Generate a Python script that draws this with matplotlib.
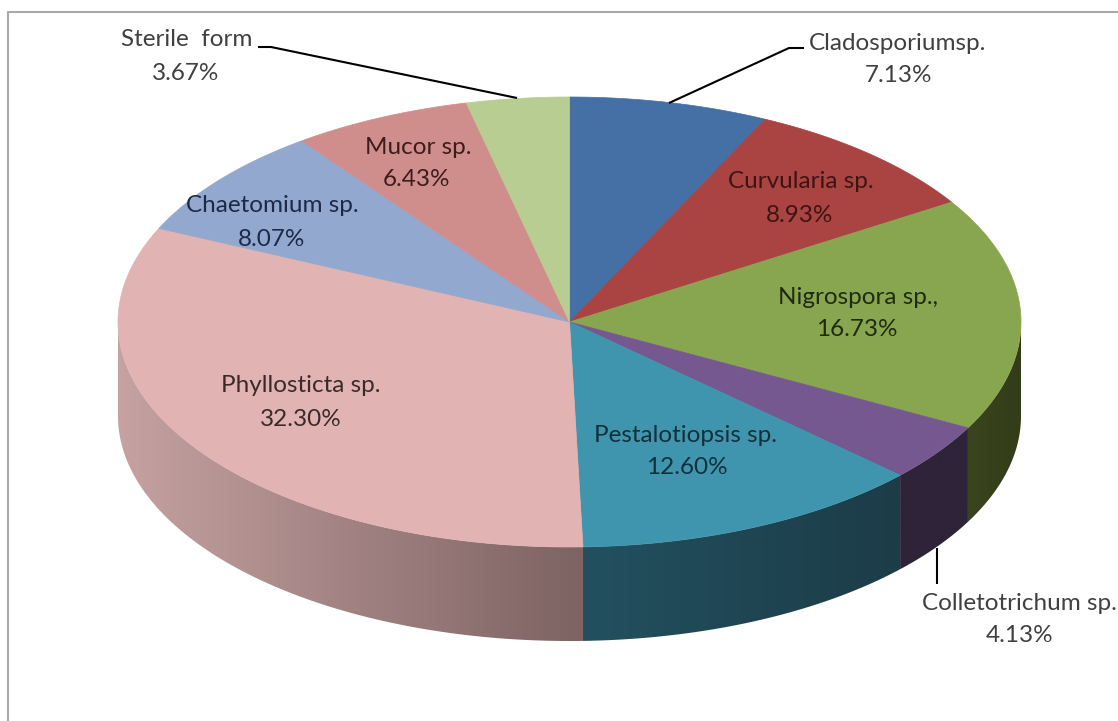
# Import libs
import numpy as np
import matplotlib
matplotlib.use('Agg')
import matplotlib.pyplot as plt
from matplotlib.colors import LinearSegmentedColormap
from matplotlib.patches import Polygon

plt.rcParams['font.family'] = ['Lato', 'DejaVu Sans']

names = ['Cladosporiumsp.', 'Curvularia sp.', 'Nigrospora sp.,', 'Colletotrichum sp.',
         'Pestalotiopsis sp.', 'Phyllosticta sp.', 'Chaetomium sp.', 'Mucor sp.', 'Sterile  form']
values = [7.13, 8.93, 16.73, 4.13, 12.60, 32.30, 8.07, 6.43, 3.67]

top_colors = ['#4470a5', '#a94442', '#88a64f', '#75588f', '#4095ae',
              '#e2b3b3', '#92a8cf', '#cf8e8c', '#b7cd92']
# left and right shade of the outer wall
side_left = ['#2f4d72', '#6e2c2b', '#3a441e', '#2e2338', '#23505f',
             '#c6a2a2', '#5c6a83', '#846060', '#76845f']
side_right = ['#2f4d72', '#6e2c2b', '#323c18', '#2e2338', '#1c3c48',
              '#7d6362', '#5c6a83', '#846060', '#76845f']
text_colors = ['#404040', '#3d1414', '#1f2a10', '#404040', '#12303c',
               '#3a2a2a', '#1c2a48', '#3d1c1c', '#404040']

name_pos = [(898, 43), (801, 182), (858, 297), (1019, 603), (685, 436),
            (301, 386), (272, 206), (418, 147), (187, 40)]
value_pos = [(898, 76), (800, 215), (857, 330), (1020, 636), (687, 468),
             (301, 419), (272, 240), (417, 180), (186, 74)]

leaders = [[(804, 48), (789, 48), (669, 103)],
           [(258, 47), (271, 47), (517, 98)],
           [(937, 548), (937, 584)]]

# pie geometry in pixels
cx, cy = 569.5, 322
rx, ry = 451.5, 225
depth = 94


def ellipse(t):
    return cx + rx * np.sin(t), cy - ry * np.cos(t)


def draw_wall(ax, t0, t1, left, right):
    # only the front half of the rim can be seen
    t0, t1 = max(t0, np.pi / 2), min(t1, 3 * np.pi / 2)
    if t1 <= t0:
        return
    t = np.linspace(t0, t1, 200)
    x, y = ellipse(t)
    pts = np.r_[np.c_[x, y], np.c_[x[::-1], y[::-1] + depth]]
    x_lo, x_hi = x.min(), x.max()
    cmap = LinearSegmentedColormap.from_list('wall', [left, right])
    im = ax.imshow(np.linspace(0, 1, 256)[None, :], cmap=cmap, aspect='auto',
                   extent=(x_lo, x_hi, y.max() + depth, y.min()), zorder=1)
    clip = Polygon(pts, closed=True, transform=ax.transData, fc='none', ec='none')
    ax.add_patch(clip)
    im.set_clip_path(clip)


def draw_chart():
    fig = plt.figure(figsize=(11.18, 7.21), dpi=100, facecolor='white')
    ax = fig.add_axes([0, 0, 1, 1])

    # wedge angles come straight from the percentages
    edges = np.r_[0, np.cumsum(values)] / np.sum(values) * 2 * np.pi

    for i in range(len(values)):
        draw_wall(ax, edges[i], edges[i + 1], side_left[i], side_right[i])

    for i in range(len(values)):
        t = np.linspace(edges[i], edges[i + 1], 120)
        x, y = ellipse(t)
        ax.fill(np.r_[cx, x], np.r_[cy, y], fc=top_colors[i], ec=top_colors[i],
                lw=0.5, zorder=2)

    for line in leaders:
        xs, ys = zip(*line)
        ax.plot(xs, ys, color='black', lw=1.5, zorder=3, solid_capstyle='butt')

    for i in range(len(values)):
        ax.text(*name_pos[i], names[i], color=text_colors[i], fontsize=17.5,
                ha='center', va='center', zorder=4)
        ax.text(*value_pos[i], f'{values[i]:.2f}%', color=text_colors[i], fontsize=17.5,
                ha='center', va='center', zorder=4)

    # chart frame, cut off by the right and bottom edge
    ax.plot([8, 8, 1118], [721, 12, 12], color='#a9a9a9', lw=1.5, zorder=5)

    ax.set_xlim(0, 1118)
    ax.set_ylim(721, 0)
    ax.axis('off')
    fig.savefig('out.png', dpi=100)


if __name__ == '__main__':
    draw_chart()
